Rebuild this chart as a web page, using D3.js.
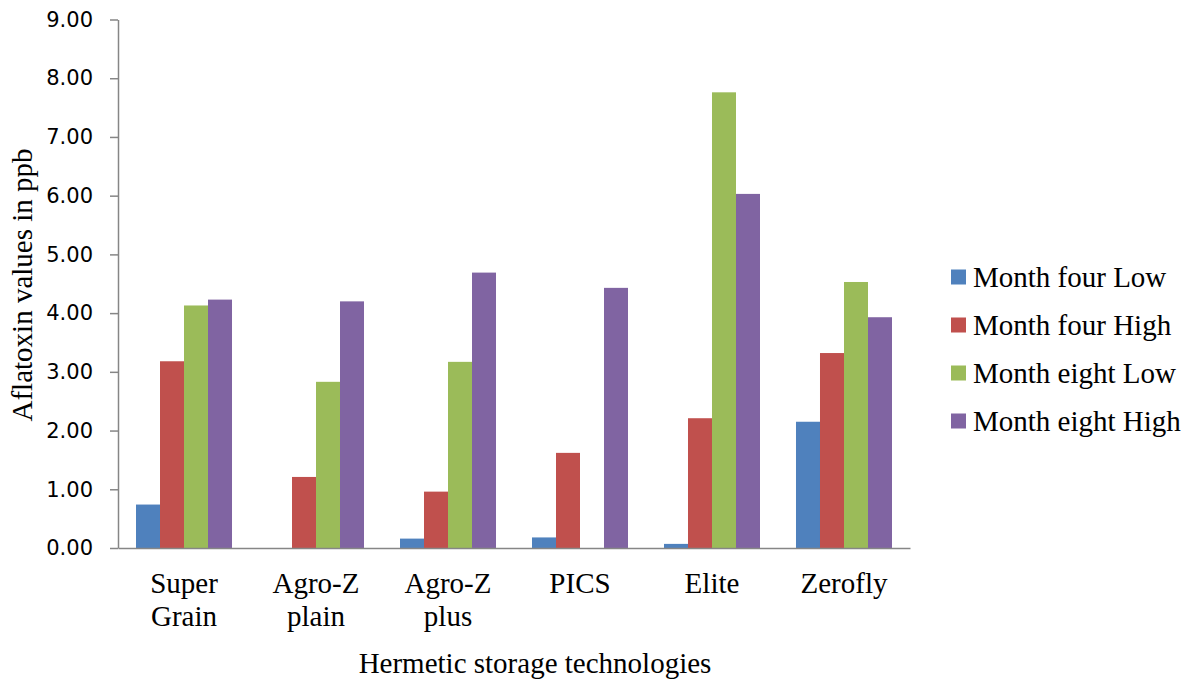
<!DOCTYPE html>
<html>
<head>
<meta charset="utf-8">
<script src="https://cdn.jsdelivr.net/npm/d3@7"></script>
<style>
body { margin: 0; background: #fff; }
</style>
</head>
<body>
<svg id="mainSvg" width="1197" height="680"></svg>
<script>
var categories = [["Super", "Grain"], ["Agro-Z", "plain"], ["Agro-Z", "plus"], ["PICS"], ["Elite"], ["Zerofly"]];
var seriesNames = ["Month four Low", "Month four High", "Month eight Low", "Month eight High"];
var monthFourLow = [0.74, 0, 0.16, 0.18, 0.07, 2.15];
var monthFourHigh = [3.18, 1.21, 0.96, 1.62, 2.21, 3.32];
var monthEightLow = [4.13, 2.83, 3.17, 0, 7.76, 4.53];
var monthEightHigh = [4.23, 4.20, 4.69, 4.43, 6.03, 3.93];
var yTicks = [0, 1, 2, 3, 4, 5, 6, 7, 8, 9];
var colors = ["#4F81BD", "#C0504D", "#9BBB59", "#8064A2"];

var series = [monthFourLow, monthFourHigh, monthEightLow, monthEightHigh];
var svg = d3.select("#mainSvg");
var plotLeft = 118, plotRight = 910, plotTop = 19.5, plotBottom = 548;
var axisColor = "#868686";
var serif = "'Liberation Serif', 'Times New Roman', serif";

var x0 = d3.scaleBand().domain(d3.range(categories.length)).range([plotLeft, plotRight]).paddingInner(0.2727).paddingOuter(0.1364);
var x1 = d3.scaleBand().domain(d3.range(series.length)).range([0, x0.bandwidth()]);
var y = d3.scaleLinear().domain([0, 9]).range([plotBottom, plotTop]);

// bars
var groups = svg.selectAll("g.cat").data(categories).enter().append("g")
	.attr("class", "cat")
	.attr("transform", function(d, i) { return "translate(" + x0(i) + ",0)"; });
groups.selectAll("rect").data(function(d, i) {
	return series.map(function(s, j) { return {j: j, v: s[i]}; });
}).enter().append("rect")
	.attr("x", function(d) { return x1(d.j); })
	.attr("width", x1.bandwidth())
	.attr("y", function(d) { return y(d.v); })
	.attr("height", function(d) { return y(0) - y(d.v); })
	.attr("fill", function(d) { return colors[d.j]; });

// y axis
var yAxis = svg.append("g").attr("transform", "translate(" + plotLeft + ",0)")
	.call(d3.axisLeft(y).tickValues(yTicks).tickFormat(d3.format(".2f")).tickSize(8).tickSizeOuter(0).tickPadding(17));
yAxis.select(".domain").attr("stroke", axisColor).attr("stroke-width", 1.5);
yAxis.selectAll(".tick line").attr("stroke", axisColor).attr("stroke-width", 1.5);
yAxis.selectAll(".tick text").attr("fill", "#000").attr("font-family", "'DejaVu Sans', Verdana, sans-serif").attr("font-size", 21);

// x axis
var xAxis = svg.append("g").attr("transform", "translate(0," + plotBottom + ")")
	.call(d3.axisBottom(x0).tickSize(0).tickSizeOuter(0).tickFormat(""));
xAxis.select(".domain").attr("stroke", axisColor).attr("stroke-width", 1.5);
xAxis.selectAll(".tick text").remove();
xAxis.selectAll(".tick").append("text")
	.attr("fill", "#000")
	.attr("font-family", serif)
	.attr("font-size", 29)
	.attr("text-anchor", "middle")
	.selectAll("tspan").data(function(d) { return categories[d]; }).enter().append("tspan")
	.attr("x", 0)
	.attr("y", function(d, i) { return 45 + i * 33; })
	.text(function(d) { return d; });

// axis titles
svg.append("text").attr("x", 535).attr("y", 673).attr("text-anchor", "middle")
	.attr("font-family", serif).attr("font-size", 29).text("Hermetic storage technologies");
svg.append("text").attr("transform", "translate(32,285) rotate(-90)").attr("text-anchor", "middle")
	.attr("font-family", serif).attr("font-size", 29).text("Aflatoxin values in ppb");

// legend
var legend = svg.selectAll("g.legend").data(seriesNames).enter().append("g")
	.attr("class", "legend")
	.attr("transform", function(d, i) { return "translate(951," + (277 + i * 48) + ")"; });
legend.append("rect").attr("x", 0).attr("y", -7.5).attr("width", 15).attr("height", 15)
	.attr("fill", function(d, i) { return colors[i]; });
legend.append("text").attr("x", 22).attr("y", 9.5)
	.attr("font-family", serif).attr("font-size", 29).text(function(d) { return d; });
</script>
</body>
</html>
